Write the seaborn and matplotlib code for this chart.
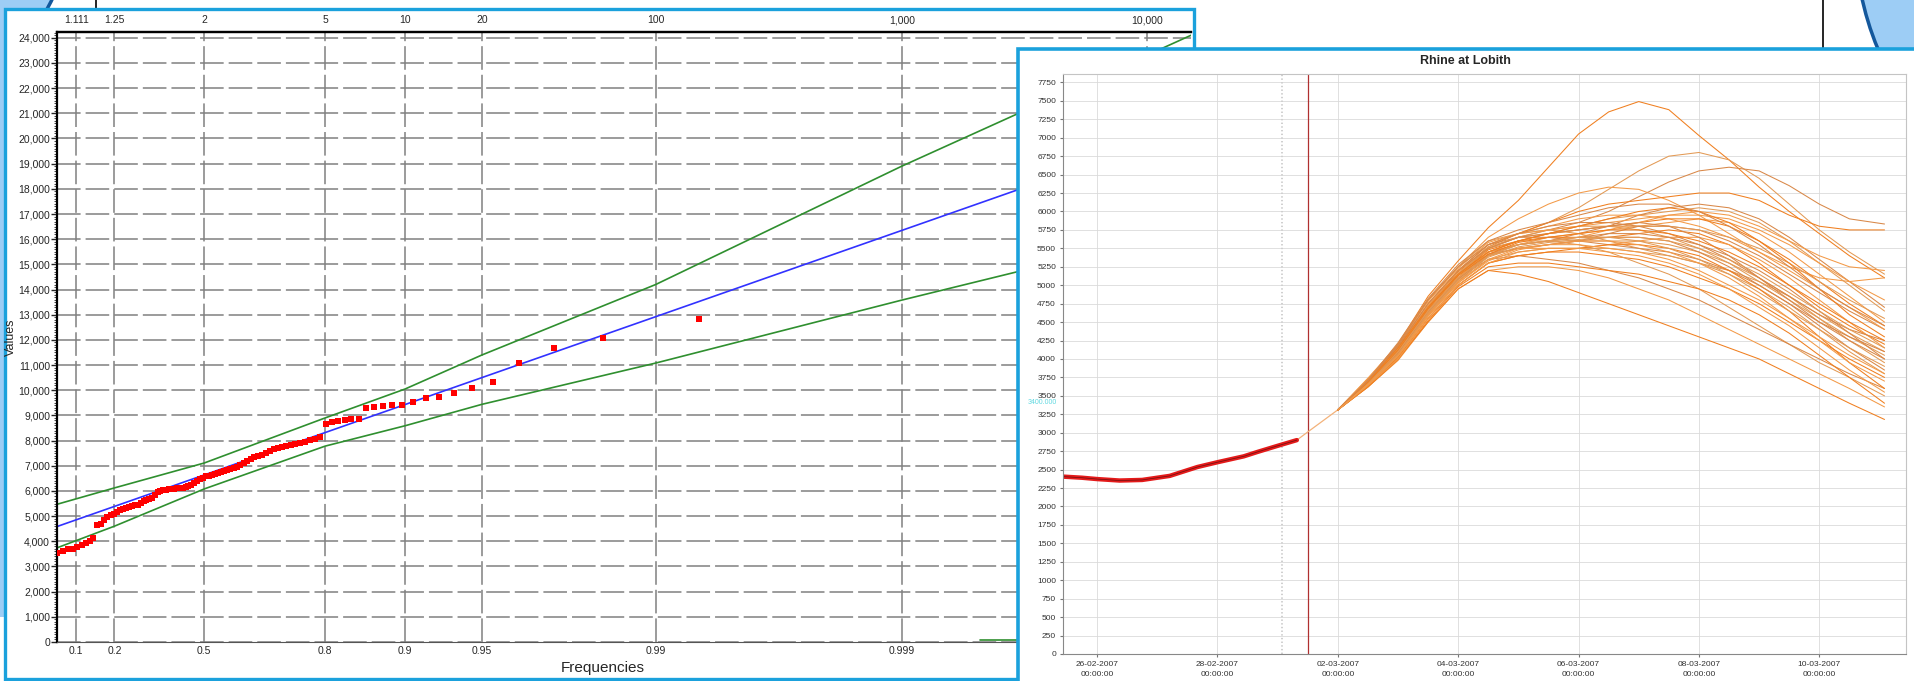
"""
Flood frequency (Gumbel plot) next to the Rhine at Lobith ensemble forecast
"""

import numpy as np
import pandas as pd
import matplotlib
matplotlib.use("Agg")
import matplotlib.pyplot as plt
import matplotlib.dates as mdates
import matplotlib.patches as mpatches
import matplotlib.ticker as mticker
from matplotlib.lines import Line2D
import seaborn as sns

W, H = 1915, 681
PANEL_BLUE = "#1ba1dc"
GRID_GREY  = "#808080"
GREEN      = "#2f8f2f"
BLUE       = "#3232ff"
RED        = "#ff0000"
ORANGES    = ["#f07f1f", "#e39a55", "#d98848", "#f39a48"]

sns.set_style("white")
plt.rcParams["font.family"] = ["Liberation Sans", "DejaVu Sans"]
plt.rcParams["lines.scale_dashes"] = False

# ── Left chart data: annual maxima, sorted ascending ─────────────────────────
ANNUAL_MAX = [
    3100, 3250, 3320, 3400, 3450, 3490,
    3520, 3620, 3680, 3710, 3760,
    3870, 3940, 4030, 4120,
    4640, 4700, 4850, 4950, 5030, 5080, 5150,
    5250, 5290, 5320, 5370, 5400, 5430, 5460, 5520,
    5590, 5640, 5680, 5720,
    5850, 5950, 6010, 6040, 6050, 6060, 6070, 6090, 6100, 6110,
    6130, 6160, 6190, 6220, 6300, 6400, 6460, 6520, 6580, 6600,
    6640, 6680, 6720, 6760, 6790, 6830, 6870, 6920, 6970, 7030,
    7100, 7200, 7280, 7330, 7380, 7430, 7500, 7580, 7650, 7710,
    7750, 7790, 7830, 7870, 7910, 7960, 8010, 8080, 8140,
    8650, 8720, 8760, 8800, 8850, 8870,
    9300, 9330, 9360, 9400, 9420,
    9550, 9710, 9720, 9880, 10080, 10320, 11070, 11680, 12070, 12830,
]

FIT_FREQ  = [0.0635, 0.9999336]
FIT_VALUE = [4586, 20375]

CI_FREQ  = [0.0635, 0.2, 0.5, 0.8, 0.9, 0.95, 0.99, 0.999, 0.9999336]
CI_UPPER = [5470, 6120, 7110, 8900, 10050, 11400, 14200, 18900, 24100]
CI_LOWER = [3740, 4600, 6080, 7780, 8590, 9440, 11080, 13580, 16400]

TAIL_FREQ  = [0.99952, 0.9999336]
TAIL_VALUE = [60, 60]

FREQ_TICKS    = [0.1, 0.2, 0.5, 0.8, 0.9, 0.95, 0.99, 0.999, 0.9999]
FREQ_LABELS   = ["0.1", "0.2", "0.5", "0.8", "0.9", "0.95", "0.99", "0.999", ""]
RETURN_TICKS  = [1.111, 1.25, 2, 5, 10, 20, 100, 1000, 10000]
RETURN_LABELS = ["1.111", "1.25", "2", "5", "10", "20", "100", "1,000", "10,000"]

# ── Right chart data: observed discharge and ensemble members ────────────────
OBS_TIMES = [
    "2007-02-25 10:30", "2007-02-25 18:00", "2007-02-26 00:00",
    "2007-02-26 09:00", "2007-02-26 18:00", "2007-02-27 05:00",
    "2007-02-27 16:00", "2007-02-28 00:00", "2007-02-28 10:30",
    "2007-02-28 16:00", "2007-02-28 23:45", "2007-03-01 07:40",
]
OBS_VALUES = [2405, 2390, 2372, 2352, 2360, 2415, 2535, 2600, 2680, 2740, 2820, 2900]

TRUNK_TIMES  = ["2007-03-01 07:40", "2007-03-01 12:00", "2007-03-02 00:00"]
TRUNK_VALUES = [2900, 3010, 3310]

MEMBER_TIMES = [
    "2007-03-02 00:00", "2007-03-02 12:00", "2007-03-03 00:00", "2007-03-03 12:00",
    "2007-03-04 00:00", "2007-03-04 12:00", "2007-03-05 00:00", "2007-03-05 12:00",
    "2007-03-06 00:00", "2007-03-06 12:00", "2007-03-07 00:00", "2007-03-07 12:00",
    "2007-03-08 00:00", "2007-03-08 12:00", "2007-03-09 00:00", "2007-03-09 12:00",
    "2007-03-10 00:00", "2007-03-10 12:00", "2007-03-11 02:00",
]
MEMBERS = [
    [3310, 3720, 4200, 4850, 5330, 5780, 6150, 6600, 7050, 7350, 7490, 7380, 7030, 6700, 6330, 6000, 5700, 5400, 5100],
    [3310, 3700, 4150, 4750, 5200, 5550, 5700, 5850, 6050, 6300, 6550, 6750, 6800, 6700, 6450, 6100, 5750, 5450, 5150],
    [3310, 3680, 4100, 4700, 5150, 5500, 5650, 5750, 5850, 6000, 6200, 6400, 6550, 6600, 6550, 6350, 6100, 5900, 5830],
    [3310, 3720, 4180, 4800, 5250, 5650, 5900, 6100, 6250, 6330, 6300, 6150, 5950, 5700, 5450, 5250, 5100, 5050, 5100],
    [3310, 3690, 4120, 4720, 5180, 5520, 5700, 5850, 6000, 6100, 6150, 6200, 6250, 6250, 6150, 5950, 5800, 5750, 5750],
    [3310, 3660, 4080, 4650, 5100, 5450, 5600, 5700, 5800, 5900, 5950, 6000, 6050, 6000, 5850, 5600, 5300, 5000, 4650],
    [3310, 3700, 4150, 4700, 5150, 5450, 5550, 5600, 5700, 5800, 5950, 6050, 6100, 6050, 5900, 5650, 5350, 5050, 4700],
    [3310, 3640, 4050, 4600, 5050, 5400, 5550, 5650, 5700, 5750, 5800, 5850, 5900, 5850, 5700, 5450, 5150, 4850, 4500],
    [3310, 3680, 4100, 4650, 5100, 5450, 5600, 5650, 5650, 5650, 5700, 5750, 5700, 5550, 5300, 5000, 4700, 4450, 4200],
    [3310, 3730, 4200, 4800, 5250, 5600, 5700, 5750, 5700, 5600, 5500, 5400, 5300, 5200, 5050, 4850, 4600, 4350, 4100],
    [3310, 3640, 4050, 4600, 5050, 5400, 5500, 5550, 5600, 5700, 5800, 5800, 5750, 5600, 5400, 5150, 4900, 4650, 4400],
    [3310, 3670, 4100, 4650, 5100, 5400, 5500, 5500, 5500, 5550, 5600, 5650, 5650, 5550, 5350, 5100, 4800, 4500, 4150],
    [3310, 3620, 4000, 4550, 5000, 5300, 5400, 5450, 5450, 5400, 5350, 5250, 5100, 4950, 4750, 4500, 4250, 4000, 3750],
    [3310, 3710, 4150, 4700, 5150, 5500, 5600, 5600, 5550, 5450, 5300, 5150, 4950, 4700, 4450, 4200, 3950, 3750, 3500],
    [3310, 3670, 4080, 4650, 5100, 5350, 5400, 5350, 5300, 5200, 5100, 4950, 4800, 4600, 4400, 4200, 4000, 3800, 3600],
    [3310, 3620, 3980, 4500, 4950, 5200, 5250, 5250, 5200, 5100, 4950, 4800, 4600, 4400, 4200, 4000, 3800, 3600, 3350],
    [3310, 3630, 4000, 4500, 4950, 5200, 5150, 5050, 4900, 4750, 4600, 4450, 4300, 4150, 4000, 3800, 3600, 3400, 3180],
    [3310, 3690, 4120, 4700, 5150, 5500, 5650, 5750, 5800, 5800, 5750, 5650, 5500, 5300, 5050, 4800, 4550, 4300, 4050],
    [3310, 3650, 4060, 4620, 5080, 5420, 5550, 5600, 5650, 5700, 5700, 5650, 5550, 5400, 5200, 4950, 4650, 4350, 4000],
    [3310, 3720, 4140, 4720, 5200, 5550, 5700, 5800, 5900, 5950, 5950, 5900, 5800, 5650, 5450, 5200, 4950, 4700, 4400],
    [3310, 3680, 4100, 4680, 5130, 5480, 5600, 5700, 5750, 5800, 5850, 5900, 5900, 5800, 5600, 5350, 5050, 4750, 4450],
    [3310, 3640, 4030, 4580, 5030, 5350, 5450, 5500, 5500, 5500, 5450, 5400, 5300, 5150, 4950, 4700, 4400, 4100, 3800],
    [3310, 3720, 4160, 4750, 5200, 5550, 5650, 5650, 5600, 5550, 5500, 5450, 5350, 5200, 5000, 4750, 4450, 4150, 3850],
    [3310, 3670, 4090, 4650, 5100, 5450, 5550, 5600, 5650, 5750, 5850, 5950, 6000, 5950, 5800, 5600, 5400, 5250, 5200],
    [3310, 3630, 4020, 4550, 5000, 5300, 5400, 5450, 5500, 5550, 5550, 5500, 5400, 5200, 4950, 4650, 4300, 3950, 3600],
    [3310, 3690, 4110, 4680, 5130, 5450, 5550, 5600, 5600, 5600, 5600, 5550, 5450, 5300, 5100, 4850, 4550, 4250, 3950],
    [3310, 3660, 4070, 4630, 5080, 5420, 5500, 5550, 5600, 5650, 5650, 5600, 5450, 5250, 5000, 4750, 4500, 4300, 4100],
    [3310, 3740, 4190, 4780, 5230, 5580, 5700, 5750, 5800, 5850, 5900, 5950, 5950, 5900, 5750, 5550, 5300, 5050, 4800],
    [3310, 3620, 3990, 4520, 4980, 5250, 5300, 5300, 5250, 5200, 5150, 5050, 4950, 4800, 4600, 4350, 4050, 3750, 3400],
    [3310, 3700, 4130, 4700, 5160, 5520, 5650, 5700, 5750, 5800, 5800, 5800, 5750, 5650, 5500, 5300, 5050, 4800, 4550],
    [3310, 3700, 4180, 4750, 5200, 5500, 5650, 5700, 5750, 5800, 5850, 5800, 5650, 5400, 5100, 4800, 4500, 4250, 4000],
    [3310, 3650, 4050, 4600, 5050, 5350, 5500, 5550, 5550, 5500, 5450, 5350, 5200, 5000, 4800, 4550, 4300, 4050, 3800],
    [3310, 3690, 4150, 4700, 5150, 5450, 5600, 5700, 5800, 5900, 6000, 6050, 6000, 5850, 5600, 5300, 4950, 4600, 4300],
    [3310, 3670, 4100, 4650, 5100, 5400, 5550, 5600, 5650, 5650, 5600, 5500, 5350, 5150, 4900, 4650, 4400, 4150, 3900],
    [3310, 3700, 4200, 4800, 5250, 5550, 5700, 5800, 5850, 5850, 5800, 5700, 5550, 5350, 5100, 4850, 4600, 4400, 4250],
    [3310, 3640, 4000, 4550, 5000, 5300, 5450, 5500, 5500, 5450, 5400, 5300, 5150, 4950, 4700, 4450, 4150, 3850, 3550],
    [3310, 3680, 4120, 4680, 5130, 5420, 5580, 5650, 5700, 5750, 5750, 5700, 5600, 5450, 5250, 5000, 4750, 4500, 4250],
    [3310, 3660, 4060, 4620, 5070, 5380, 5520, 5580, 5620, 5650, 5650, 5600, 5500, 5350, 5150, 4900, 4650, 4400, 4150],
    [3310, 3710, 4220, 4820, 5280, 5600, 5750, 5850, 5950, 6050, 6100, 6100, 6000, 5800, 5550, 5250, 4950, 4700, 4450],
    [3310, 3650, 4040, 4580, 5030, 5330, 5480, 5550, 5600, 5600, 5550, 5450, 5300, 5100, 4850, 4550, 4250, 3950, 3700],
]

FORECAST_T0 = "2007-03-01 12:00"
OLD_RUN_T   = "2007-03-01 01:40"
DATE_TICKS  = pd.date_range("2007-02-26", "2007-03-10", freq="2D")


def gumbel(p):
    p = np.clip(np.asarray(p, dtype=float), 1e-12, 1 - 1e-12)
    return -np.log(-np.log(p))


def inv_gumbel(y):
    with np.errstate(over="ignore"):
        return np.exp(-np.exp(-np.asarray(y, dtype=float)))


def fig_box(left, top, right, bottom):
    # pixel box (origin top-left) -> figure fraction
    return [left / W, 1 - bottom / H, (right - left) / W, (bottom - top) / H]


fig = plt.figure(figsize=(W / 100, H / 100), dpi=100)
fig.patch.set_facecolor("white")

# ── Slide decorations ────────────────────────────────────────────────────────
for cx, cy, r in [(-250, -150, 337), (2155, -66, 300)]:
    fig.add_artist(mpatches.Ellipse((cx / W, 1 - cy / H), 2 * r / W, 2 * r / H,
                                    fc="#9dcdf5", ec="#14589c", lw=2.5,
                                    transform=fig.transFigure, zorder=0.2))
fig.add_artist(mpatches.Rectangle((0, 1 - 617 / H), 5 / W, 617 / H, fc="#9dcdf5",
                                  ec="none", transform=fig.transFigure, zorder=0.2))
for x, y1 in [(1823, 49), (96, 9)]:
    fig.add_artist(Line2D([x / W, x / W], [1, 1 - y1 / H], color="black", lw=1.2,
                          transform=fig.transFigure, zorder=0.3))

fig.add_artist(mpatches.Rectangle((5 / W, 1 - 679 / H), 1189 / W, 670 / H,
                                  fc="white", ec=PANEL_BLUE, lw=2.4,
                                  transform=fig.transFigure, zorder=0.5))

# ── Chart 1 — Gumbel frequency plot ──────────────────────────────────────────
ax = fig.add_axes(fig_box(57, 32, 1191, 642), zorder=1)
ax.set_xscale("function", functions=(gumbel, inv_gumbel))

n = len(ANNUAL_MAX)
plot_pos = [(i - 0.3) / (n + 0.4) for i in range(1, n + 1)]   # median ranks

sns.lineplot(x=CI_FREQ, y=CI_UPPER, ax=ax, color=GREEN, lw=1.2)
sns.lineplot(x=CI_FREQ, y=CI_LOWER, ax=ax, color=GREEN, lw=1.2)
sns.lineplot(x=TAIL_FREQ, y=TAIL_VALUE, ax=ax, color=GREEN, lw=1.2)
sns.lineplot(x=FIT_FREQ, y=FIT_VALUE, ax=ax, color=BLUE, lw=1.2)
sns.scatterplot(x=plot_pos, y=ANNUAL_MAX, ax=ax, color=RED, marker="s",
                s=17, linewidth=0, zorder=5)

xlim = (FIT_FREQ[0], FIT_FREQ[-1])
ax.set_xlim(*xlim)
ax.set_ylim(0, 24230)
ax.set_axisbelow(True)

ax.set_xticks(FREQ_TICKS)
ax.set_xticklabels(FREQ_LABELS)
ax.xaxis.set_minor_locator(mticker.NullLocator())
ax.yaxis.set_major_locator(mticker.MultipleLocator(1000))
ax.yaxis.set_minor_locator(mticker.MultipleLocator(100))
ax.yaxis.set_major_formatter(mticker.StrMethodFormatter("{x:,.0f}"))
ax.grid(True, which="major", color=GRID_GREY, lw=1.1, ls=(0, (17, 3.6)))
ax.tick_params(axis="y", which="major", length=4, width=1, pad=1,
               labelsize=7.5, left=True)
ax.tick_params(axis="y", which="minor", length=2, width=0.6, left=True)
ax.tick_params(axis="x", length=0, pad=3, labelsize=7.5)

for side in ["left", "top"]:
    ax.spines[side].set_color("black")
    ax.spines[side].set_linewidth(1.6)
ax.spines["bottom"].set_color("#555555")
ax.spines["right"].set_visible(False)

ax.set_ylabel("Values", fontsize=9)
ax.yaxis.set_label_coords(-0.0353, 0.5)
ax.set_xlabel("Frequencies", fontsize=11)
ax.xaxis.set_label_coords(0.4815, -0.031)

ax_top = ax.twiny()
ax_top.set_zorder(1.1)
ax_top.set_xscale("function", functions=(gumbel, inv_gumbel))
ax_top.set_xlim(*xlim)
ax_top.set_xticks([1 - 1 / t for t in RETURN_TICKS])
ax_top.set_xticklabels(RETURN_LABELS)
ax_top.xaxis.set_minor_locator(mticker.NullLocator())
ax_top.tick_params(axis="x", length=0, pad=5, labelsize=7.5)
for side in ["left", "right", "bottom"]:
    ax_top.spines[side].set_visible(False)
ax_top.spines["top"].set_color("black")
ax_top.spines["top"].set_linewidth(1.6)

# ── Chart 2 — Rhine at Lobith ensemble ───────────────────────────────────────
fig.add_artist(mpatches.Rectangle((1018 / W, 1 - 700 / H), 912 / W, 651 / H,
                                  fc="white", ec=PANEL_BLUE, lw=2.6,
                                  transform=fig.transFigure, zorder=2))
fig.text(1465 / W, 1 - 61 / H, "Rhine at Lobith", ha="center", va="center",
         fontsize=9, fontweight="bold", zorder=4)

ax2 = fig.add_axes(fig_box(1063, 74, 1906, 654), zorder=3)
ax2.set_facecolor("white")

obs = pd.DataFrame({"time": pd.to_datetime(OBS_TIMES), "value": OBS_VALUES})
trunk = pd.DataFrame({"time": pd.to_datetime(TRUNK_TIMES), "value": TRUNK_VALUES})

rows = []
for k, vals in enumerate(MEMBERS):
    for t, v in zip(MEMBER_TIMES, vals):
        rows.append((k, t, v))
ens = pd.DataFrame(rows, columns=["member", "time", "value"])
ens["time"] = pd.to_datetime(ens["time"])
palette = [ORANGES[k % len(ORANGES)] for k in range(len(MEMBERS))]

ax2.axvline(pd.Timestamp(OLD_RUN_T), color="#cfcfcf", lw=1.4, ls=":")
ax2.axvline(pd.Timestamp(FORECAST_T0), color="#b03030", lw=0.9)

sns.lineplot(data=trunk, x="time", y="value", ax=ax2, color="#f3b27a", lw=0.9)
sns.lineplot(data=ens, x="time", y="value", hue="member", units="member",
             estimator=None, palette=palette, lw=0.75, legend=False, ax=ax2)
sns.lineplot(data=obs, x="time", y="value", ax=ax2, color="#e41a1a", lw=3.2)
sns.lineplot(data=obs, x="time", y="value", ax=ax2, color="#6a1010", lw=0.5)

ax2.set_xlim(pd.Timestamp("2007-02-25 10:26"), pd.Timestamp("2007-03-11 10:34"))
ax2.set_ylim(0, 7864)
ax2.set_xticks(DATE_TICKS)
ax2.xaxis.set_major_formatter(mdates.DateFormatter("%d-%m-%Y\n%H:%M:%S"))
ax2.yaxis.set_major_locator(mticker.MultipleLocator(250))
ax2.yaxis.set_major_formatter(mticker.StrMethodFormatter("{x:.0f}"))
ax2.set_axisbelow(True)
ax2.grid(True, color="#dadada", lw=0.6)
ax2.tick_params(axis="both", labelsize=6, length=2, color="#777777",
                labelcolor="#333333", pad=3, left=True, bottom=True)
plt.setp(ax2.get_xticklabels(), linespacing=1.7)
ax2.set_xlabel("")
ax2.set_ylabel("")
for side in ["left", "bottom"]:
    ax2.spines[side].set_color("#888888")
    ax2.spines[side].set_linewidth(0.8)
for side in ["top", "right"]:
    ax2.spines[side].set_color("#c4c4c4")
    ax2.spines[side].set_linewidth(0.8)

ax2.text(-0.007, 3410, "3400.000", transform=ax2.get_yaxis_transform(),
         ha="right", va="center", fontsize=5, color="#5fd8e0",
         bbox=dict(fc="white", ec="none", pad=0.5), clip_on=False)

fig.savefig("out.png", dpi=100)
